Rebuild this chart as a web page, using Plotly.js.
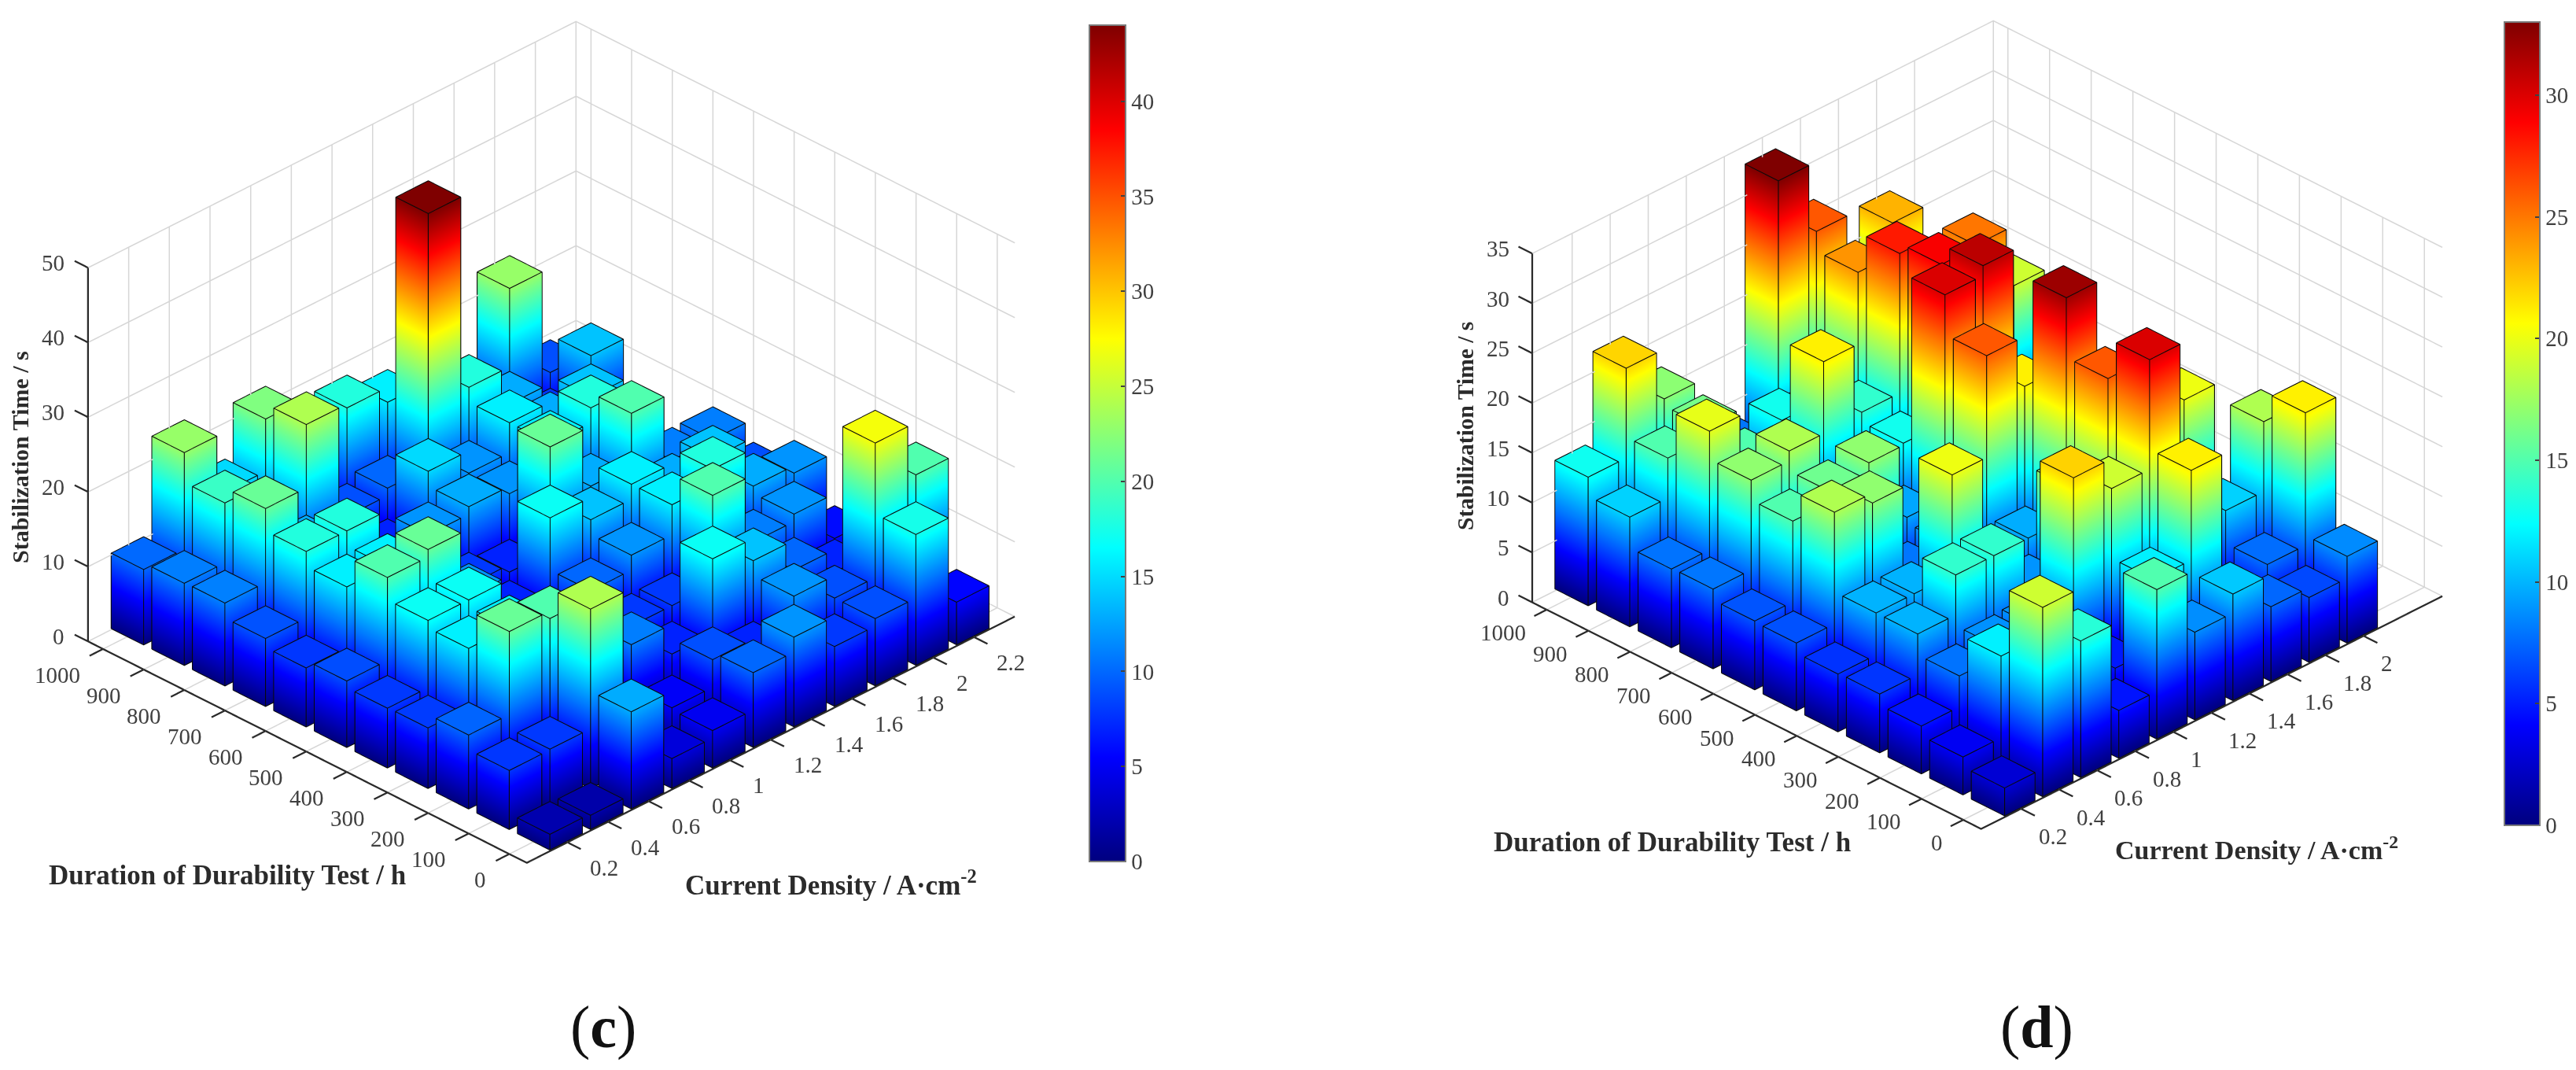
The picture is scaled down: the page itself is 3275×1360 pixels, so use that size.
<!DOCTYPE html>
<html><head><meta charset="utf-8">
<script src="https://cdn.plot.ly/plotly-3.0.1.min.js"></script>
<style>html,body{margin:0;padding:0;background:#fff}#g{width:3275px;height:1360px}</style>
</head><body><div id="g"></div>
<script>
const durationH=[0,100,200,300,400,500,600,700,800,900,1000];
const currentC=[0.2,0.4,0.6,0.8,1,1.2,1.4,1.6,1.8,2,2.2];
const currentD=[0.2,0.4,0.6,0.8,1,1.2,1.4,1.6,1.8,2];
const ticksZC=[0,10,20,30,40,50];
const ticksZD=[0,5,10,15,20,25,30,35];
const barTicksC=[0,5,10,15,20,25,30,35,40];
const barTicksD=[0,5,10,15,20,25,30];
// rows: one per current density, columns: duration 0..1000 h
const stabC=[
[2.1,7.9,9.9,8.1,8,8.9,7.9,9.1,11.1,11,10.1],
[1.9,8,21,16,17,20,16,18,21,19,23],
[13,24,20,16,17,21,16,18,13,10,15],
[4,6,8,10,7,12,11,8,8,24,22],
[5,5.3,11,8,7,7,8,12,7,9,12],
[10,9,7,8,10,17,7,13,15,10,18],
[12,7,17,8,12,14,21,12,12,44,16],
[8,12,14,20,16,16,13,16,16,18,12],
[9,9,10,11,18,13,20,18,13,13,10],
[17.5,27,7,12,13,14,11,5,14,8,23],
[5.7,20,9,6,12,9,11,5,9,14,9]];
const stabD=[
[2.8,3.8,4.8,5.9,5.8,6.8,6.9,8,7.9,11,12.9],
[19,12,7.9,10,10,18,15,17,19.8,15,21.9],
[13.7,10,8.9,14,10,17,16,18,15,16.2,16.9],
[4.8,6,9,14,20,8,17,10,10,9,9],
[15,5,22,9,8,9,9.6,10,21,13,8],
[8.8,12,19,17,9.8,26,30,13,14,12,33],
[10.7,21,30,26,32,21,31,29,28,24,26],
[7.5,6,10,15,12,15,15,12,12,15,18],
[6.5,7.7,11,20,12,10,12,10,25,10,23],
[8.7,21,18,6,12,12,8,8,19,10,10]];

const jet=[[0,'#00007f'],[0.125,'#0000ff'],[0.375,'#00ffff'],[0.625,'#ffff00'],[0.875,'#ff0000'],[1,'#7f0000']];
const W=3275,H=1360;
const serif='"Liberation Serif","Times New Roman",serif';
const tickCol='#404040', lblSize=29;
const TX=0.066, TY=33;          // tick lengths in data units
const PAD={x:0.09,y:45,z:0.6};  // room around the axis box so that ticks stay in range

function polyTrace(scene,segs,color,width){
  const x=[],y=[],z=[];
  segs.forEach(s=>{s.forEach(v=>{x.push(v[0]);y.push(v[1]);z.push(v[2]);});x.push(null);y.push(null);z.push(null);});
  return {type:'scatter3d',scene:scene,mode:'lines',x:x,y:y,z:z,line:{color:color,width:width},hoverinfo:'skip',showlegend:false,connectgaps:false};
}
function build(p){
  const X=[],Y=[],Z=[],I=[],J=[],K=[];
  const segs=[];
  const hx=0.4*0.2,hy=0.4*100;
  const sx=(p.xr[1]-p.xr[0])*p.eps, sy=(p.yr[1]-p.yr[0])*p.eps, sz=p.zr[1]*p.eps;
  p.xs.forEach((cx,i)=>durationH.forEach((cy,j)=>{
    const h=p.vals[i][j],n=X.length;
    const xa=cx-hx,xb=cx+hx,ya=cy-hy,yb=cy+hy;
    [[xa,ya,0],[xb,ya,0],[xb,yb,0],[xa,yb,0],[xa,ya,h],[xb,ya,h],[xb,yb,h],[xa,yb,h]].forEach(v=>{X.push(v[0]);Y.push(v[1]);Z.push(v[2]);});
    [[0,1,5],[0,5,4],[0,4,7],[0,7,3],[4,5,6],[4,6,7]].forEach(f=>{I.push(n+f[0]);J.push(n+f[1]);K.push(n+f[2]);});
    const pts=(a)=>segs.push(a.map(v=>[X[n+v]-sx,Y[n+v]-sy,Z[n+v]+sz]));
    pts([4,5,6,7,4]);pts([0,4]);pts([1,5]);pts([3,7]);pts([3,0,1]);
  }));
  const mesh={type:'mesh3d',scene:p.scene,x:X,y:Y,z:Z,i:I,j:J,k:K,intensity:Z.slice(),colorscale:jet,cmin:0,cmax:p.cmax,
    flatshading:false,lighting:{ambient:1,diffuse:0,specular:0,roughness:1,fresnel:0},hoverinfo:'skip',
    colorbar:{x:p.cb.x/W,xanchor:'left',y:1-p.cb.top/H,yanchor:'top',len:p.cb.len,lenmode:'pixels',thickness:p.cb.w,thicknessmode:'pixels',
      xpad:0,ypad:0,outlinecolor:'#7a7a7a',outlinewidth:2,ticks:'inside',ticklen:7,tickcolor:'#404040',tickwidth:1.5,
      tickmode:'array',tickvals:p.cb.ticks,ticktext:p.cb.ticks.map(String),tickfont:{family:serif,size:lblSize,color:tickCol}}};
  const [x0,x1]=p.xr,[y0,y1]=p.yr,z1=p.zr[1];
  const grid=[],ax=[];
  p.xs.forEach(c=>{grid.push([[c,y0,0],[c,y1,0],[c,y1,z1]]);ax.push([[c,y0,0],[c,y0-TY,0]]);});
  durationH.forEach(t=>{grid.push([[x0,t,0],[x1,t,0],[x1,t,z1]]);ax.push([[x0,t,0],[x0-TX,t,0]]);});
  p.zt.forEach(z=>{grid.push([[x0,y1,z],[x1,y1,z],[x1,y0,z]]);ax.push([[x0,y1,z],[x0,y1+TY,z]]);});
  grid.push([[x1,y1,0],[x1,y1,z1]]);
  ax.push([[x0,y1,z1],[x0,y1,0],[x0,y0,0],[x1,y0,0]]);
  return [polyTrace(p.scene,grid,'#d6d6d6',3),mesh,polyTrace(p.scene,segs,'#0a0a0a',2.1),polyTrace(p.scene,ax,'#2a2a2a',4.5)];
}
function axis(range){return {visible:false,range:range,autorange:false,showgrid:false,showline:false,zeroline:false,showticklabels:false,showbackground:false,showspikes:false,ticks:'',title:{text:''}};}
function sceneLayout(p){
  const a=[];
  const ann=(x,y,z,t,xa,xs,ys)=>a.push({x:x,y:y,z:z,text:t,showarrow:false,xanchor:xa,yanchor:'middle',xshift:xs,yshift:ys,font:{family:serif,size:lblSize,color:tickCol}});
  durationH.forEach(t=>ann(p.xr[0],t,0,String(t),'right',p.lab.y[0],p.lab.y[1]));
  p.xs.forEach(c=>ann(c,p.yr[0],0,String(c),'left',p.lab.x[0],p.lab.x[1]));
  p.zt.forEach(z=>ann(p.xr[0],p.yr[1],z,String(z),'right',p.lab.z[0],p.lab.z[1]));
  const r=p.eye, t=Math.tan(p.el*Math.PI/180)*Math.SQRT2;
  const f=(rg,d)=>(rg[1]-rg[0]+2*d)/(rg[1]-rg[0]);
  return {domain:{x:[p.dom[0]/W,p.dom[1]/W],y:[1-p.dom[3]/H,1-p.dom[2]/H]},aspectmode:'manual',
    aspectratio:{x:p.asp.x*p.k*f(p.xr,PAD.x),y:p.asp.y*p.k*f(p.yr,PAD.y),z:p.asp.z*p.k*f(p.zr,PAD.z)},
    camera:{eye:{x:-r,y:-r,z:r*t},up:{x:0,y:0,z:1},center:{x:0,y:0,z:0},projection:{type:'orthographic'}},
    xaxis:axis([p.xr[0]-PAD.x,p.xr[1]+PAD.x]),yaxis:axis([p.yr[0]-PAD.y,p.yr[1]+PAD.y]),zaxis:axis([p.zr[0]-PAD.z,p.zr[1]+PAD.z]),annotations:a,bgcolor:'rgba(0,0,0,0)',dragmode:false};
}
const pc={scene:'scene',xs:currentC,vals:stabC,xr:[0,2.4],yr:[-43,1037],zr:[0,50],zt:ticksZC,cmax:44,eps:0.0012,el:30.3,eye:2,k:1.77,
  asp:{x:0.882,y:0.793,z:0.553},dom:[0,1402,0,1124],lab:{x:[27,-32],y:[-27,-33],z:[-28,6]},cb:{x:1385,top:32,len:1063,w:46,ticks:barTicksC}};
const pd={scene:'scene2',xs:currentD,vals:stabD,xr:[-0.01,2.414],yr:[-43,1035],zr:[0,35],zt:ticksZD,cmax:33,eps:0.0012,el:30.3,eye:2,k:1.85,
  asp:{x:0.830,y:0.808,z:0.514},dom:[1778,3275,0,1080],lab:{x:[20,-35],y:[-24,-29],z:[-27,6]},cb:{x:3184,top:28,len:1021,w:45,ticks:barTicksD}};
const txt=(x,y,t,sz,ang,col)=>({xref:'paper',yref:'paper',x:x/W,y:1-y/H,text:t,showarrow:false,xanchor:'center',yanchor:'middle',textangle:ang||0,font:{family:serif,size:sz,color:col||'#2b2b2b'}});
const anns=[
 txt(289,1112,'<b>Duration of Durability Test / h</b>',35),
 txt(1056,1122,'<b>Current Density / A·cm<sup>-2</sup></b>',35),
 txt(25,581,'<b>Stabilization Time / s</b>',30,-90),
 txt(2126,1070,'<b>Duration of Durability Test / h</b>',35),
 txt(2869,1078,'<b>Current Density / A·cm<sup>-2</sup></b>',34),
 txt(1863,542,'<b>Stabilization Time / s</b>',29.5,-90),
 txt(767,1305,'(<b>c</b>)',76,0,'#111'),
 txt(2589,1305,'(<b>d</b>)',76,0,'#111')
];
const layout={width:W,height:H,margin:{l:0,r:0,t:0,b:0},paper_bgcolor:'#fff',showlegend:false,scene:sceneLayout(pc),scene2:sceneLayout(pd),annotations:anns};
Plotly.newPlot('g',build(pc).concat(build(pd)),layout,{displayModeBar:false,responsive:false});
</script></body></html>
